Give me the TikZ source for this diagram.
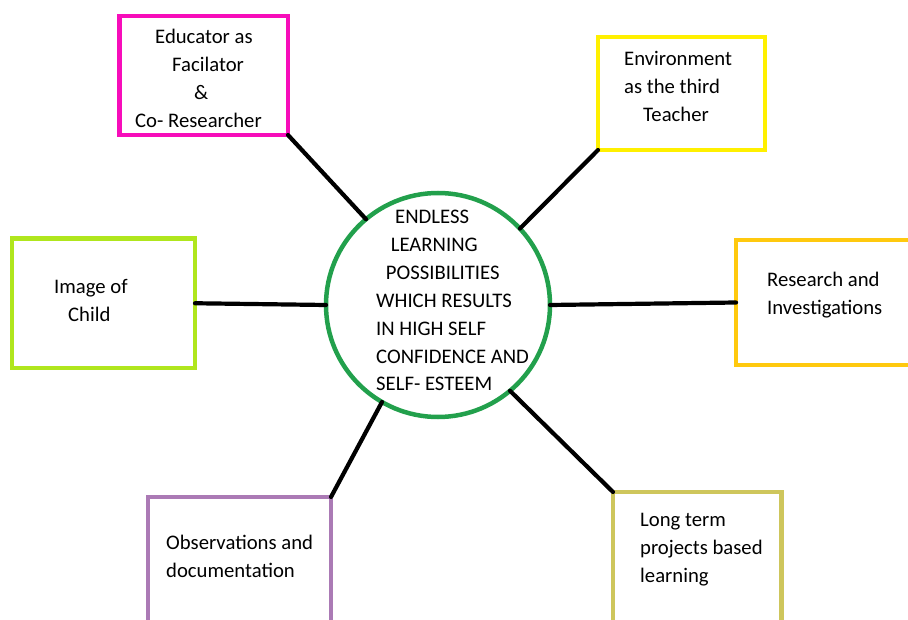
\documentclass[tikz,border=0pt]{standalone}
\usepackage{fontspec}
\setmainfont{Carlito}
\usepackage{tikz}
\definecolor{hubgreen}{HTML}{22A04C}
\definecolor{magenta}{HTML}{F70DBA}
\definecolor{yellowb}{HTML}{FFF000}
\definecolor{lime}{HTML}{B0E61D}
\definecolor{gold}{HTML}{FFC90E}
\definecolor{lilac}{HTML}{AB7AB5}
\definecolor{olive}{HTML}{CEC65C}
\tikzset{
  box/.style={draw, line width=4.5pt, inner sep=0pt, outer sep=0pt},
  hub/.style={circle, draw=hubgreen, line width=4.5pt, minimum size=224pt, inner sep=0pt, outer sep=0pt},
  link/.style={draw=black, line width=4.2pt, line cap=round},
  lab/.style={anchor=north west, inner sep=0pt, align=left, text=black, font=\fontsize{20.7}{27.9}\selectfont},
}
\begin{document}
\begin{tikzpicture}[x=1pt,y=-1pt]
  \useasboundingbox (0,0) rectangle (908,620);
  \clip (0,0) rectangle (908,620);
  % centre
  \node[hub] (hub) at (438,305) {};
  % boxes
  \node[box,draw=magenta,minimum width=168.5pt,minimum height=119pt] (edu) at (203.75,75.5) {};
  \node[box,draw=yellowb,minimum width=167pt,minimum height=113pt] (env) at (681.5,93.5) {};
  \node[box,draw=lime,minimum width=183pt,minimum height=129.5pt] (child) at (103.5,303.25) {};
  \node[box,draw=gold,minimum width=180pt,minimum height=125pt] (res) at (826,302.5) {};
  \node[box,draw=lilac,minimum width=183pt,minimum height=130pt] (obs) at (239.5,562) {};
  \node[box,draw=olive,minimum width=168.7pt,minimum height=130pt] (long) at (697.35,557) {};
  % texts
  \node[lab] (hubtext) at (376,203.8) {\strut\hspace*{19pt}ENDLESS\\\hspace*{14.7pt}LEARNING\\\hspace*{9.7pt}POSSIBILITIES\\WHICH RESULTS\\IN HIGH SELF\\CONFIDENCE AND\\SELF- ESTEEM};
  \node[lab] (edutext) at (135,23.8) {\strut\hspace*{20pt}Educator as\\\hspace*{37pt}Facilator\\\hspace*{59pt}\&\\Co- Researcher};
  \node[lab] (envtext) at (624,45.5) {\strut Environment\\as the third\\\hspace*{19pt}Teacher};
  \node[lab] (childtext) at (54,273.5) {\strut Image of\\\hspace*{14pt}Child};
  \node[lab] (restext) at (767,267.2) {\strut Research and\\Investigations};
  \node[lab] (obstext) at (166,529.8) {\strut Observations and\\documentation};
  \node[lab] (longtext) at (640,507.2) {\strut Long term\\projects based\\learning};
  % spokes
  \draw[link] (edu.south east) -- (hub.130);
  \draw[link] (env.south west) -- (hub.43);
  \draw[link] (child.east) -- (hub.west);
  \draw[link] (hub.east) -- (res.west);
  \draw[link] (obs.north east) -- (hub.240);
  \draw[link] (long.north west) -- (hub.-50);
\end{tikzpicture}
\end{document}
